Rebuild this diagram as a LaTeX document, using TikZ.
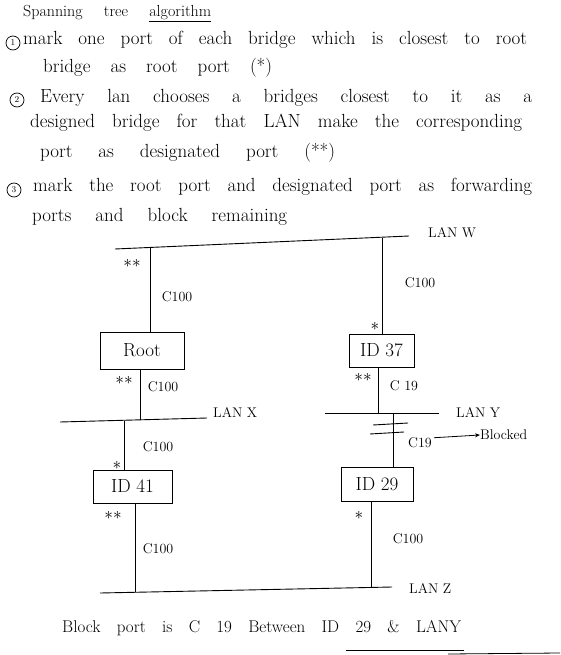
\documentclass[tikz,border=0pt]{standalone}
\usepackage{tikz}
\usetikzlibrary{arrows.meta,calc,positioning}
\tikzset{
    % 文字行
    textline/.style={anchor=west, inner sep=0pt, font=\fontsize{19}{22}\selectfont},
    stepnum/.style={draw, circle, line width=0.7pt, inner sep=0pt, minimum size=14pt,
        font=\fontsize{9}{10}\selectfont},
    % 网桥方框
    bridgebox/.style={draw, line width=0.9pt, inner sep=0pt, font=\fontsize{19}{21}\selectfont},
    lanline/.style={line width=0.9pt},
    link/.style={line width=0.9pt},
    costlabel/.style={inner sep=0pt, font=\fontsize{14}{16}\selectfont},
    portmark/.style={inner sep=0pt, font=\fontsize{19}{20}\selectfont},
    blockarrow/.style={
        line width=0.8pt,
        ->,
        >={Stealth[length=5pt, width=4pt]}
    }
}
\newcommand{\handline}[2]{\makebox[#1][s]{#2}}

\begin{document}
\begin{tikzpicture}[x=1pt,y=-1pt]
    \useasboundingbox (0,0) rectangle (560,655);

    % ===================== 标题与步骤 =====================
    \node[textline, font=\fontsize{16}{18}\selectfont] (title) at (23,14)
        {\handline{188pt}{Spanning tree \underline{algorithm}}};

    \node[stepnum] (s1) at (13,43) {1};
    \node[textline] (l1a) at (23,40)
        {\handline{504pt}{mark one port of each bridge which is closest to root}};
    \node[textline] (l1b) at (43,68) {\handline{229pt}{bridge as root port (*)}};

    \node[stepnum] (s2) at (17,100) {2};
    \node[textline] (l2a) at (40,98)
        {\handline{492pt}{Every lan chooses a bridges closest to it as a}};
    \node[textline] (l2b) at (30,123)
        {\handline{492pt}{designed bridge for that LAN make the corresponding}};
    \node[textline] (l2c) at (40,153) {\handline{295pt}{port as designated port (**)}};

    \node[stepnum] (s3) at (14,190) {3};
    \node[textline] (l3a) at (33,187)
        {\handline{499pt}{mark the root port and designated port as forwarding}};
    \node[textline] (l3b) at (32,217) {\handline{255pt}{ports and block remaining}};

    % ===================== 网络图 =====================
    \path
    (115,249) coordinate (wL)
    (409,236) coordinate (wR)
    (60,422) coordinate (xL)
    (207,418) coordinate (xR)
    (325,413) coordinate (yL)
    (439,413) coordinate (yR)
    (100,593) coordinate (zL)
    (392,587) coordinate (zR)
    (150,247.5) coordinate (w1)
    (382,238) coordinate (w2)
    (140,420) coordinate (x1)
    (124,420.5) coordinate (x2)
    (378,413) coordinate (y1)
    (393,413) coordinate (y2)
    (135,592) coordinate (z1)
    (371,587.5) coordinate (z2)
    ;

    % LAN
    \draw[lanline] (wL) -- (wR);
    \draw[lanline] (xL) -- (xR);
    \draw[lanline] (yL) -- (yR);
    \draw[lanline] (zL) -- (zR);
    \node[costlabel, anchor=west] (lanw) at (428,233) {LAN W};
    \node[costlabel, anchor=west] (lanx) at (213,412) {LAN X};
    \node[costlabel, anchor=west] (lany) at (456,412) {LAN Y};
    \node[costlabel, anchor=west] (lanz) at (409,588) {LAN Z};

    % 网桥
    \node[bridgebox, minimum width=84pt, minimum height=37pt] (root) at (142,350.5) {Root};
    \node[bridgebox, minimum width=65pt, minimum height=33pt] (id37) at (381.5,350.5) {ID 37};
    \node[bridgebox, minimum width=79pt, minimum height=33pt] (id41) at (132.5,486.5) {ID 41};
    \node[bridgebox, minimum width=72pt, minimum height=34pt] (id29) at (377,484) {ID 29};

    % 连线
    \draw[link] (w1) -- (w1 |- root.north);
    \draw[link] (x1) -- (x1 |- root.south);
    \draw[link] (w2) -- (w2 |- id37.north);
    \draw[link] (y1) -- (y1 |- id37.south);
    \draw[link] (x2) -- (x2 |- id41.north);
    \draw[link] (z1) -- (z1 |- id41.south);
    \draw[link] (y2) -- (y2 |- id29.north);
    \draw[link] (z2) -- (z2 |- id29.south);

    % 阻塞标记
    \draw[link] (373,425) -- (408,423);
    \draw[link] (370,434) -- (404,432);

    % 端口与代价
    \node[portmark] (p1) at (132,263) {$\ast\ast$};
    \node[costlabel] (c1) at (177,297) {C100};
    \node[portmark] (p2) at (124,380) {$\ast\ast$};
    \node[costlabel] (c2) at (163,387) {C100};

    \node[costlabel] (c3) at (420,283) {C100};
    \node[portmark] (p3) at (375,326) {$\ast$};
    \node[portmark] (p4) at (363,377) {$\ast\ast$};
    \node[costlabel] (c4) at (404,386) {C 19};

    \node[costlabel] (c5) at (420,443) {C19};
    \node[costlabel, anchor=west] (blocked) at (480,435) {Blocked};
    \draw[blockarrow] ([xshift=2pt]c5.north east) -- (blocked.west);

    \node[portmark] (p5) at (117,465) {$\ast$};
    \node[costlabel] (c6) at (158,447) {C100};
    \node[portmark] (p6) at (113,515) {$\ast\ast$};
    \node[costlabel] (c7) at (158,549) {C100};

    \node[portmark] (p7) at (359,515) {$\ast$};
    \node[costlabel] (c8) at (408,539) {C100};

    % 结论
    \node[textline, font=\fontsize{17}{20}\selectfont] (result) at (62,628)
        {\handline{399pt}{Block port is C 19 Between ID 29 \& LANY}};
    \draw[line width=0.8pt] (346,650) -- (464,650);
    \draw[line width=0.8pt] (448,654) -- (560,653);
\end{tikzpicture}
\end{document}
